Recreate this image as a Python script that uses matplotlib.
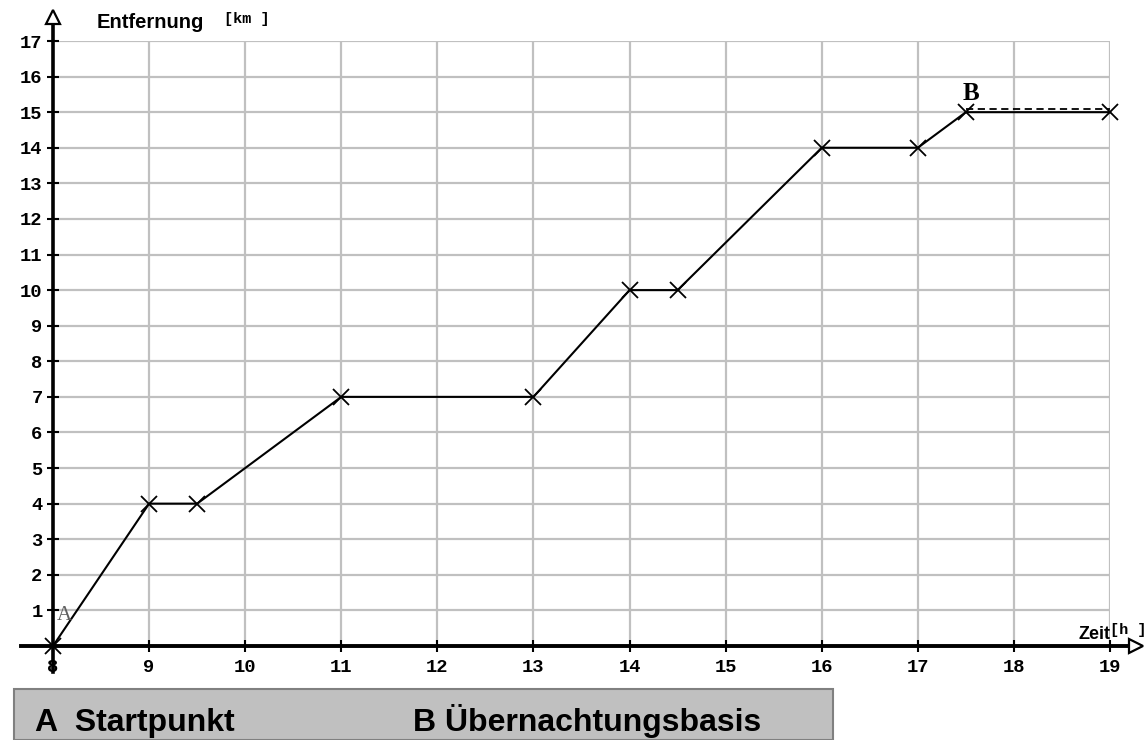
import matplotlib
matplotlib.use('Agg')
from matplotlib import pyplot as plt
from matplotlib import transforms

plt.rcParams['font.family'] = ['Liberation Sans', 'DejaVu Sans']

# Daten: Zeit [h] und Entfernung [km]
zeit = [8, 9, 9.5, 11, 13, 14, 14.5, 16, 17, 17.5, 19]
entfernung = [0, 4, 4, 7, 7, 10, 10, 14, 14, 15, 15]
rast_zeit = [17.5, 19]          # gestrichelte Linie bei B
rast_km = [15, 15]
x_ticks = list(range(8, 20))
y_ticks = list(range(1, 18))
legende = ['A  Startpunkt', 'B Übernachtungsbasis']

W, H = 1145, 740
fig = plt.figure(figsize=(W / 100, H / 100), dpi=100)
ax = fig.add_axes([53 / W, 94 / H, 1057 / W, 605 / H])
ax.set_xlim(8, 19)
ax.set_ylim(0, 17)
for s in ax.spines.values():
    s.set_visible(False)

# Gitter nur im Bereich 8..19 x 0..17
grau = '#c0c0c0'
ax.vlines(x_ticks[1:], 0, 17, color=grau, lw=1.6, zorder=1)
ax.hlines(y_ticks, 8, 19, color=grau, lw=1.6, zorder=1)

# Achsen mit offenen Pfeilspitzen
ax.plot([7.667, 19.30], [0, 0], color='black', lw=2.8, clip_on=False, zorder=3)
ax.plot([8, 8], [-0.73, 17.72], color='black', lw=2.6, clip_on=False, zorder=3)
ax.plot([19.27], [0], marker='>', ms=10, mfc='white', mec='black', mew=1.6,
        clip_on=False, zorder=4)
ax.plot([8], [17.68], marker='^', ms=10, mfc='white', mec='black', mew=1.6,
        clip_on=False, zorder=4)

# Ticks
ax.set_xticks(x_ticks)
ax.set_xticklabels([str(v) for v in x_ticks])
ax.set_yticks(y_ticks)
ax.set_yticklabels([str(v) for v in y_ticks])
ax.tick_params(direction='inout', length=9, width=1.5, colors='black')
ax.tick_params(axis='x', pad=5)
ax.tick_params(axis='y', pad=3)
for lab in ax.get_xticklabels() + ax.get_yticklabels():
    lab.set_family(['Liberation Mono', 'DejaVu Sans Mono'])
    lab.set_fontweight('bold')
    lab.set_fontsize(13.5)

# Weg
ax.plot(zeit, entfernung, color='black', lw=1.5, marker='x', ms=11, mew=1.3,
        clip_on=False, zorder=5)
versatz = transforms.offset_copy(ax.transData, fig=fig, x=0, y=3.5, units='dots')
ax.plot(rast_zeit, rast_km, color='black', lw=1.3, ls=(0, (4, 2.5)),
        transform=versatz, clip_on=False, zorder=5)

# Punktbeschriftungen
ax.text(8.12, 0.85, 'A', family=['Liberation Serif', 'DejaVu Serif'], fontsize=15,
        color='#606060', ha='center', va='center', zorder=6)
ax.text(17.55, 15.52, 'B', family=['Liberation Serif', 'DejaVu Serif'], fontsize=18,
        fontweight='bold', color='black', ha='center', va='center', zorder=6)

# Achsenbeschriftungen
ax.text(8.455, 17.53, 'Entfernung', fontsize=14.5, fontweight='bold',
        ha='left', va='center', clip_on=False)
ax.text(9.78, 17.62, '[km ]', family=['Liberation Mono', 'DejaVu Sans Mono'],
        fontsize=11, fontweight='bold', ha='left', va='center', clip_on=False)
ax.text(18.67, 0.32, 'Zeit', fontsize=13, fontweight='bold',
        ha='left', va='center', clip_on=False)
ax.text(19.0, 0.45, '[h ]', family=['Liberation Mono', 'DejaVu Sans Mono'],
        fontsize=11, fontweight='bold', ha='left', va='center', clip_on=False)

# Legendenkasten
fig.patches.append(plt.Rectangle((14 / W, 0), 819 / W, 51 / H, transform=fig.transFigure,
                                 facecolor='#c0c0c0', edgecolor='#808080', lw=1.5))
fig.text(35 / W, 9 / H, legende[0], fontsize=23, fontweight='bold', ha='left', va='baseline')
fig.text(413 / W, 9 / H, legende[1], fontsize=23, fontweight='bold', ha='left', va='baseline')

fig.savefig('out.png', dpi=100)
